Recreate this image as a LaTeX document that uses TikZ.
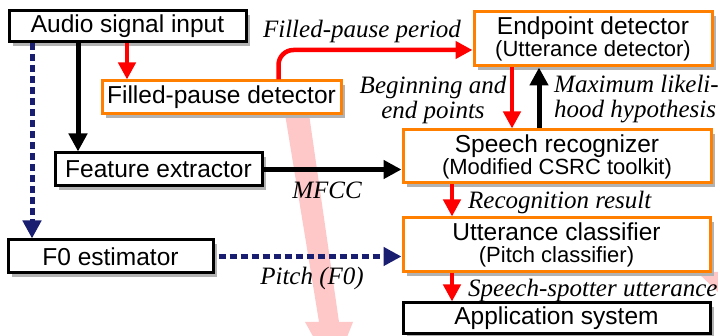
\documentclass[tikz,border=0pt]{standalone}
\usepackage{fontspec}
\setmainfont{Liberation Sans}
\newfontfamily\lblfont{Liberation Serif}
\usetikzlibrary{arrows.meta,shadows,calc}
\definecolor{boxorange}{RGB}{255,128,0}
\definecolor{navyline}{RGB}{26,30,112}
\definecolor{pinkbg}{RGB}{255,200,200}
\definecolor{shadowgray}{RGB}{178,178,178}
\newcommand\subtxt{\fontsize{22}{22}\selectfont}
\begin{document}
\begin{tikzpicture}[x=1pt,y=-1pt,
  box/.style={draw=black, line width=3pt, fill=white, inner sep=0pt, align=center,
    drop shadow={shadow xshift=4pt, shadow yshift=-4pt, fill=shadowgray, opacity=1},
    font=\fontsize{24.5}{22}\selectfont},
  obox/.style={box, draw=boxorange},
  lbl/.style={font=\lblfont\itshape\fontsize{25}{25}\selectfont, inner sep=0pt},
  blkarrow/.style={draw=black, line width=5pt, -{Triangle[width=18pt,length=18pt]}},
  redarrow/.style={draw=red, line width=4.5pt, -{Triangle[width=17pt,length=17pt]}},
  navyarrow/.style={draw=navyline, line width=5pt, dash pattern=on 7pt off 4pt, -{Triangle[width=18pt,length=18pt]}}
]
\useasboundingbox (0,0) rectangle (718,336);
% background pink arrows
\begin{scope}
  \clip (0,0) rectangle (718,336);
  \fill[pinkbg] (285,114) -- (309,114) -- (339,322) -- (353,322) -- (333,372) -- (305,322) -- (319,322) -- cycle;
  \fill[pinkbg] (697,272) -- (718,272) -- (718,292) -- cycle;
\end{scope}

% boxes
\node[box, minimum width=237pt, minimum height=31pt] (aud) at (127.5,26.5) {Audio signal input};
\node[obox, minimum width=239pt, minimum height=33pt] (fpd) at (221.5,97.5) {Filled-pause detector};
\node[box, minimum width=207pt, minimum height=33pt] (fex) at (158.5,169.5) {Feature extractor};
\node[box, minimum width=205pt, minimum height=33pt] (fzero) at (110.5,256.5) {F0 estimator};
\node[obox, minimum width=238pt, minimum height=54pt] (epd) at (593,39) {Endpoint detector\\{\subtxt(Utterance detector)}};
\node[obox, minimum width=308pt, minimum height=53pt] (spr) at (557,156.5) {Speech recognizer\\{\subtxt(Modified CSRC toolkit)}};
\node[obox, minimum width=307pt, minimum height=54pt] (utc) at (556.5,245) {Utterance classifier\\{\subtxt(Pitch classifier)}};
\node[box, minimum width=307pt, minimum height=31pt] (app) at (556.5,318.5) {Application system};

% x positions of vertical connectors
\coordinate (xnavy) at (32,0);
\coordinate (xblack) at (78,0);
\coordinate (xred) at (127,0);
\coordinate (xepdown) at (512,0);
\coordinate (xepup) at (539,0);
\coordinate (xcls) at (452,0);

% connectors
\draw[blkarrow] (aud.south -| xblack) -- (fex.north -| xblack);
\draw[redarrow] (aud.south -| xred) -- (fpd.north -| xred);
\draw[navyarrow] (aud.south -| xnavy) -- (fzero.north -| xnavy);
\draw[redarrow, rounded corners=15pt] ([xshift=57pt]fpd.north) |- ([yshift=-11pt]epd.west);
\draw[redarrow] (epd.south -| xepdown) -- (spr.north -| xepdown);
\draw[blkarrow] (spr.north -| xepup) -- (epd.south -| xepup);
\draw[blkarrow] (fex.east) -- (spr.west |- fex.east);
\draw[navyarrow] ([xshift=4pt]fzero.east) -- (utc.west |- fzero.east);
\draw[redarrow] (spr.south -| xcls) -- (utc.north -| xcls);
\draw[redarrow] (utc.south -| xcls) -- (app.north -| xcls);

% labels
\node[lbl] (l1) at (362,31) {Filled-pause period};
\node[lbl, align=center] (l2) at (433,99.5) {Beginning and\\end points};
\node[lbl, align=left, anchor=west] (l3) at (554,99.5) {Maximum likeli-\\hood hypothesis};
\node[lbl] (l4) at (327,190) {MFCC};
\node[lbl] (l5) at (312,278) {Pitch (F0)};
\node[lbl, anchor=west] (l6) at (468,202) {Recognition result};
\node[lbl, anchor=west] (l7) at (468,290) {Speech-spotter utterance};
\end{tikzpicture}
\end{document}
